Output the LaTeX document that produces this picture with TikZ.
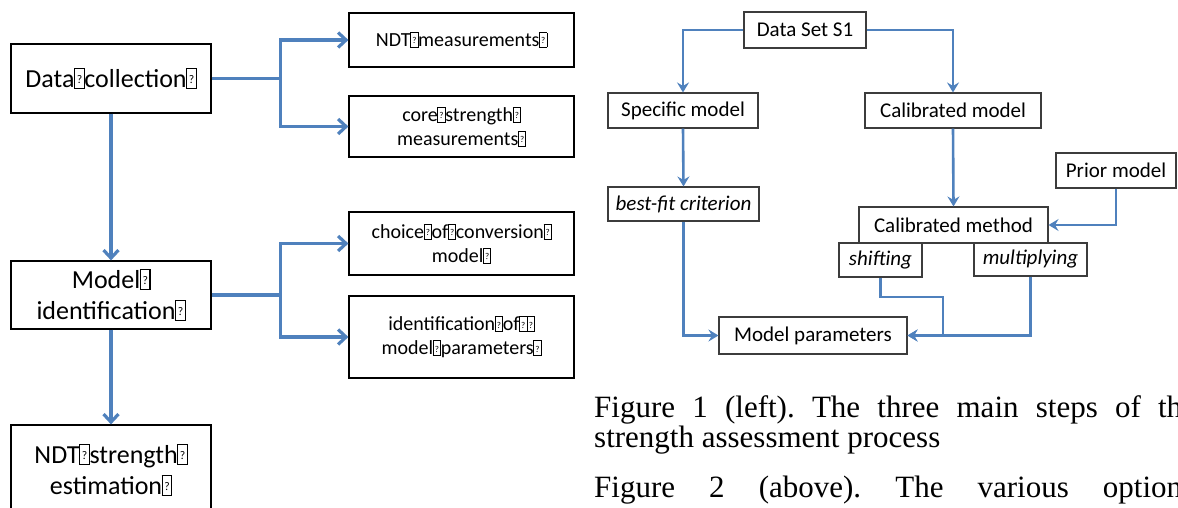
\documentclass[tikz,border=0pt]{standalone}
\usepackage{fontspec}
\setmainfont{Carlito}
\newfontfamily\captionfont{Liberation Serif}
\usetikzlibrary{positioning, arrows.meta, shadows}
\definecolor{linkblue}{HTML}{4F81BD}
\definecolor{framegrey}{HTML}{3C3C3C}
% placeholder glyph that stands where a space was lost
\newcommand{\nogl}{\makebox[0.38em]{\raisebox{-0.02em}{%
  \setlength{\fboxsep}{0pt}\setlength{\fboxrule}{0.045em}%
  \fbox{\makebox[0.32em]{\rule{0pt}{0.7em}\raisebox{0.15em}{\scalebox{0.45}{?}}}}}}}
\tikzset{
  % main steps, left chart
  stepbox/.style={draw=black, line width=1.2pt, fill=white, inner sep=0pt,
                  minimum width=200pt, align=center,
                  font=\fontsize{26}{31}\selectfont,
                  drop shadow={shadow xshift=1.3pt, shadow yshift=-1.3pt, opacity=0.35}},
  % sub-tasks of a step
  taskbox/.style={stepbox, minimum width=225pt,
                  font=\fontsize{20}{24}\selectfont},
  % boxes of the right chart
  flowbox/.style={draw=framegrey, line width=1.1pt, fill=white, inner sep=0pt,
                  align=center, font=\fontsize{21}{25}\selectfont,
                  drop shadow={shadow xshift=1.2pt, shadow yshift=-1.2pt, opacity=0.3}},
  optbox/.style={flowbox, font=\fontsize{21}{25}\selectfont\itshape},
  link/.style={linkblue, line width=3.2pt, -{Straight Barb[length=8pt,width=15pt]}},
  flow/.style={linkblue, line width=2.6pt, -{Stealth[length=10pt,width=12pt,inset=3.5pt]}},
  caption/.style={anchor=base west, inner sep=0pt,
                  font=\captionfont\fontsize{31}{36}\selectfont\frenchspacing},
}

\begin{document}
\begin{tikzpicture}[x=1pt, y=-1pt]
  \useasboundingbox (0,0) rectangle (1178,508);
  \clip (0,0) rectangle (1178,508);

  % left chart: the three steps
  \node[stepbox, minimum height=69pt] (dc)  at (111,78.5) {Data\nogl collection\nogl};
  \node[stepbox, minimum height=68pt] (mi)  at (111,295) {Model\nogl\\identification\nogl};
  \node[stepbox, minimum height=90pt] (est) at (111,470) {NDT\nogl strength\nogl\\estimation\nogl};

  \node[taskbox, minimum height=54pt] (ndt)    at (461.5,40)    {NDT\nogl measurements\nogl};
  \node[taskbox, minimum height=61pt] (core)   at (461.5,126.5) {core\nogl strength\nogl\\measurements\nogl};
  \node[taskbox, minimum height=63pt] (choice) at (461.5,243.5) {choice\nogl of\nogl conversion\nogl\\model\nogl};
  \node[taskbox, minimum height=82pt] (ident)  at (461.5,337)   {identification\nogl of\nogl\nogl\\model\nogl parameters\nogl};

  \draw[link] (dc) -- (mi);
  \draw[link] (mi) -- (est);
  \draw[link, -] (dc.east) -- ++(69,0) coordinate (dcfork);
  \draw[link] (dcfork) |- (ndt.west);
  \draw[link] (dcfork) |- (core.west);
  \draw[link, -] (mi.east) -- ++(69,0) coordinate (mifork);
  \draw[link] (mifork) |- (choice.west);
  \draw[link] (mifork) |- (ident.west);

  % right chart: model options
  \node[flowbox, minimum width=122pt, minimum height=36pt] (ds)    at (805,30)      {Data Set S1};
  \node[flowbox, minimum width=150pt, minimum height=35pt] (spec)  at (683,110.5)   {Specific model};
  \node[flowbox, minimum width=176pt, minimum height=35pt] (calm)  at (953,110.5)   {Calibrated model};
  \node[optbox,  minimum width=151pt, minimum height=34pt] (bf)    at (683.5,204)   {best-fit criterion};
  \node[flowbox, minimum width=120pt, minimum height=35pt] (prior) at (1116,170.5)  {Prior model};
  \node[flowbox, minimum width=189pt, minimum height=36pt] (cmeth) at (953.5,225)   {Calibrated method};
  \node[optbox,  minimum width=83pt,  minimum height=34pt] (shift) at (880.5,260)   {shifting};
  \node[optbox,  minimum width=113pt, minimum height=33pt] (mult)  at (1030.5,259.5) {multiplying};
  \node[flowbox, minimum width=188pt, minimum height=37pt] (mp)    at (813,335.5)   {Model parameters};

  \draw[flow] (ds.west) -| (spec.north);
  \draw[flow] (ds.east) -| (calm.north);
  \draw[flow] (spec.south) -- (bf.north);
  \draw[flow] (calm.south) -- (cmeth.north);
  \draw[flow] (prior.south) |- (cmeth.east);
  \draw[flow] (bf.south) |- (mp.west);
  \coordinate (shiftbend) at (943,297);
  \draw[flow] (shift.south) |- (shiftbend) |- (mp.east);
  \draw[flow] (mult.south) |- (mp.east);

  % captions
  \node[caption] (cap1) at (594,417) {\makebox[588pt][s]{Figure 1 (left). The three main steps of th}};
  \node[caption] (cap2) at (594,447) {strength assessment process};
  \node[caption] (cap3) at (594,497) {\makebox[588pt][s]{Figure 2 (above). The various option}};
\end{tikzpicture}
\end{document}
